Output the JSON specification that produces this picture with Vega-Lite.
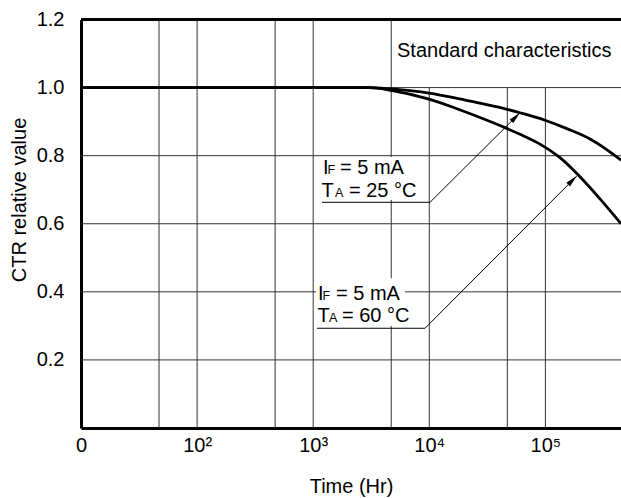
{
  "$schema": "https://vega.github.io/schema/vega-lite/v6.json",
  "width": 540,
  "height": 408.5,
  "autosize": "none",
  "padding": {"left": 81, "top": 19.5, "right": 0, "bottom": 70},
  "background": "white",
  "config": {
    "view": {"stroke": null},
    "font": "Liberation Sans",
    "axis": {
      "labelFont": "Liberation Sans",
      "titleFont": "Liberation Sans",
      "labelColor": "black",
      "titleColor": "black",
      "titleFontWeight": "normal",
      "labelFontSize": 20,
      "titleFontSize": 20,
      "grid": false,
      "ticks": false,
      "tickSize": 0,
      "domainColor": "black",
      "domainWidth": 3
    }
  },
  "datasets": {
    "curves": [
      {"series": "25C", "t": 10, "v": 1.0},
      {"series": "25C", "t": 3085, "v": 1.0},
      {"series": "25C", "t": 4680, "v": 0.996},
      {"series": "25C", "t": 9940, "v": 0.984},
      {"series": "25C", "t": 16640, "v": 0.970},
      {"series": "25C", "t": 27350, "v": 0.954},
      {"series": "25C", "t": 45800, "v": 0.937},
      {"series": "25C", "t": 60400, "v": 0.926},
      {"series": "25C", "t": 99200, "v": 0.904},
      {"series": "25C", "t": 156600, "v": 0.878},
      {"series": "25C", "t": 242200, "v": 0.849},
      {"series": "25C", "t": 337300, "v": 0.818},
      {"series": "25C", "t": 448000, "v": 0.787},
      {"series": "60C", "t": 10, "v": 1.0},
      {"series": "60C", "t": 3085, "v": 1.0},
      {"series": "60C", "t": 4680, "v": 0.992},
      {"series": "60C", "t": 9940, "v": 0.966},
      {"series": "60C", "t": 16640, "v": 0.940},
      {"series": "60C", "t": 27350, "v": 0.912},
      {"series": "60C", "t": 45800, "v": 0.881},
      {"series": "60C", "t": 60400, "v": 0.863},
      {"series": "60C", "t": 89800, "v": 0.834},
      {"series": "60C", "t": 133600, "v": 0.794},
      {"series": "60C", "t": 198600, "v": 0.738},
      {"series": "60C", "t": 295300, "v": 0.673},
      {"series": "60C", "t": 448000, "v": 0.600}
    ],
    "gridV": [
      {"t": 47, "y0": 0, "y1": 1.2},
      {"t": 100, "y0": 0, "y1": 1.2},
      {"t": 470, "y0": 0, "y1": 1.2},
      {"t": 1000, "y0": 0, "y1": 1.2},
      {"t": 4700, "y0": 0, "y1": 1.2},
      {"t": 10000, "y0": 0, "y1": 1.0},
      {"t": 47000, "y0": 0, "y1": 1.0},
      {"t": 100000, "y0": 0, "y1": 1.0}
    ],
    "gridH": [
      {"v": 0.2}, {"v": 0.4}, {"v": 0.6}, {"v": 0.8}, {"v": 1.0}
    ],
    "border": [{"v": 1.2}],
    "boxes": [
      {"t0": 1057, "t1": 8318, "v0": 0.670, "v1": 0.796},
      {"t0": 1057, "t1": 6180, "v0": 0.300, "v1": 0.440}
    ],
    "leaders": [
      {"id": "a", "k": 1, "t": 1191, "v": 0.663},
      {"id": "a", "k": 2, "t": 10140, "v": 0.663},
      {"id": "a", "k": 3, "t": 60400, "v": 0.926},
      {"id": "b", "k": 1, "t": 1078, "v": 0.293},
      {"id": "b", "k": 2, "t": 9180, "v": 0.293},
      {"id": "b", "k": 3, "t": 186100, "v": 0.740}
    ],
    "arrows": [
      {"t": 60400, "v": 0.926},
      {"t": 186100, "v": 0.740}
    ],
    "textMain": [
      {"t": 5272, "v": 1.090, "text": "Standard characteristics"},
      {"t": 1214, "v": 0.746, "text": "I"},
      {"t": 1702, "v": 0.746, "text": "= 5 mA"},
      {"t": 1181, "v": 0.678, "text": "T"},
      {"t": 2034, "v": 0.678, "text": "= 25 °C"},
      {"t": 1100, "v": 0.376, "text": "I"},
      {"t": 1571, "v": 0.376, "text": "= 5 mA"},
      {"t": 1091, "v": 0.311, "text": "T"},
      {"t": 1771, "v": 0.311, "text": "= 60 °C"}
    ],
    "textSub": [
      {"t": 1330, "v": 0.746, "text": "F"},
      {"t": 1541, "v": 0.678, "text": "A"},
      {"t": 1205, "v": 0.376, "text": "F"},
      {"t": 1368, "v": 0.311, "text": "A"}
    ]
  },
  "layer": [
    {
      "data": {"name": "gridV"},
      "mark": {"type": "rule", "color": "#333333", "strokeWidth": 1},
      "encoding": {
        "x": {
          "field": "t", "type": "quantitative",
          "scale": {"type": "log", "domain": [10, 448000], "nice": false},
          "axis": {
            "title": "Time (Hr)",
            "values": [10, 100, 1000, 10000, 100000],
            "labelExpr": "datum.value < 50 ? '0' : datum.value < 500 ? '10²' : datum.value < 5000 ? '10³' : datum.value < 50000 ? '10⁴' : '10⁵'",
            "labelPadding": 7,
            "labelFlush": false,
            "labelOverlap": false,
            "titlePadding": 21
          }
        },
        "y": {
          "field": "y0", "type": "quantitative",
          "scale": {"domain": [0, 1.2], "nice": false},
          "axis": {
            "title": "CTR relative value",
            "values": [0.2, 0.4, 0.6, 0.8, 1.0, 1.2],
            "format": ".1f",
            "labelPadding": 17,
            "labelFlush": false,
            "labelOverlap": false,
            "titlePadding": 7,
            "titleY": 180
          }
        },
        "y2": {"field": "y1"}
      }
    },
    {
      "data": {"name": "gridH"},
      "mark": {"type": "rule", "color": "#333333", "strokeWidth": 1},
      "encoding": {
        "y": {"field": "v", "type": "quantitative"}
      }
    },
    {
      "data": {"name": "border"},
      "mark": {"type": "rule", "color": "black", "strokeWidth": 3},
      "encoding": {
        "y": {"field": "v", "type": "quantitative"}
      }
    },
    {
      "data": {"name": "boxes"},
      "mark": {"type": "rect", "fill": "white", "stroke": null},
      "encoding": {
        "x": {"field": "t0", "type": "quantitative"},
        "x2": {"field": "t1"},
        "y": {"field": "v0", "type": "quantitative"},
        "y2": {"field": "v1"}
      }
    },
    {
      "data": {"name": "curves"},
      "mark": {"type": "line", "color": "black", "strokeWidth": 2.8, "interpolate": "monotone"},
      "encoding": {
        "x": {"field": "t", "type": "quantitative"},
        "y": {"field": "v", "type": "quantitative"},
        "detail": {"field": "series"}
      }
    },
    {
      "data": {"name": "leaders"},
      "mark": {"type": "line", "color": "black", "strokeWidth": 1},
      "encoding": {
        "x": {"field": "t", "type": "quantitative"},
        "y": {"field": "v", "type": "quantitative"},
        "detail": {"field": "id"},
        "order": {"field": "k"}
      }
    },
    {
      "data": {"name": "arrows"},
      "mark": {"type": "point", "shape": "M0,0L0.35,1.6L-0.35,1.6Z", "angle": 45, "size": 225, "filled": true, "color": "black", "opacity": 1},
      "encoding": {
        "x": {"field": "t", "type": "quantitative"},
        "y": {"field": "v", "type": "quantitative"}
      }
    },
    {
      "data": {"name": "textMain"},
      "mark": {"type": "text", "align": "left", "baseline": "alphabetic", "font": "Liberation Sans", "fontSize": 20, "color": "black"},
      "encoding": {
        "x": {"field": "t", "type": "quantitative"},
        "y": {"field": "v", "type": "quantitative"},
        "text": {"field": "text"}
      }
    },
    {
      "data": {"name": "textSub"},
      "mark": {"type": "text", "align": "left", "baseline": "alphabetic", "font": "Liberation Sans", "fontSize": 12.5, "color": "black"},
      "encoding": {
        "x": {"field": "t", "type": "quantitative"},
        "y": {"field": "v", "type": "quantitative"},
        "text": {"field": "text"}
      }
    }
  ]
}
